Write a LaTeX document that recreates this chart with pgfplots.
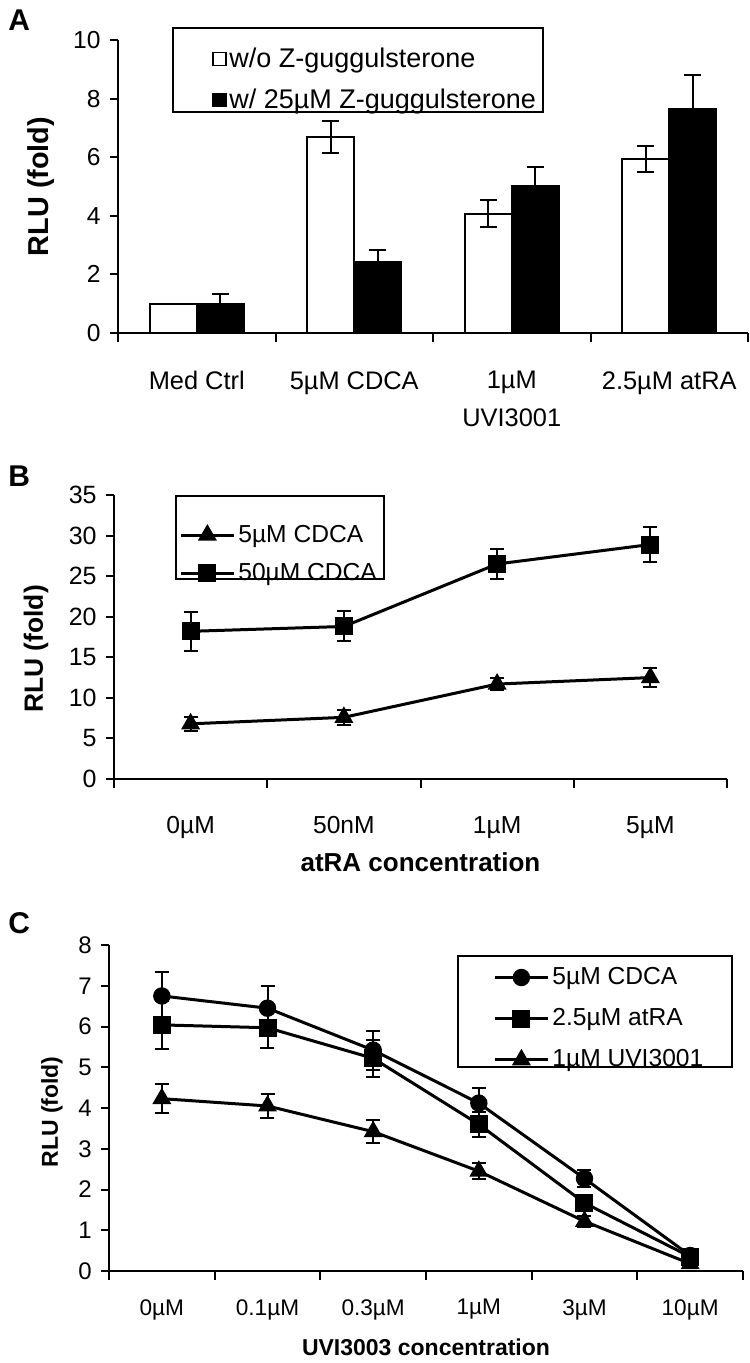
\documentclass[border=0pt]{standalone}
\usepackage{fontspec}
\setmainfont{Liberation Sans}
\usepackage{pgfplots}
\pgfplotsset{compat=1.18}

\pgfplotsset{
  panel/.style={
    scale only axis,
    axis x line=bottom, axis y line=left,
    axis line style={-, line width=1pt},
    tick align=outside,
    major tick length=4pt, minor tick length=4.5pt,
    every tick/.style={black, line width=1pt},
    major x tick style={draw=none},
    yticklabel style={anchor=east, inner sep=0pt},
    xticklabel style={anchor=north, inner sep=0pt, align=center},
    /pgf/number format/assume math mode=true,
    legend cell align=left,
    clip=false,
  },
  errs/.style={
    /pgfplots/error bars/y dir=both, /pgfplots/error bars/y explicit,
    /pgfplots/error bars/error bar style={line width=1pt, black},
    /pgfplots/error bars/error mark options={rotate=90, mark size=#1, line width=1pt, black}},
  lineplot/.style={black, line width=1.5pt, mark options={solid, fill=black}, errs=3.5pt},
  lineleg/.style={legend image code/.code={
    \draw[mark repeat=2, mark phase=2, ##1] plot coordinates {(0pt,0pt) (13.25pt,0pt) (26.5pt,0pt)};}},
  barleg/.style={legend image code/.code={
    \draw[##1, line width=0.75pt] (0pt,-3.25pt) rectangle (6.5pt,3.25pt);}},
  legbox/.style={draw=none, fill=none, anchor=north west, inner xsep=0pt, inner ysep=0pt},
}

\begin{document}
\begin{tikzpicture}
\useasboundingbox (0,0) rectangle (374.5pt,-681.5pt);

\node[anchor=north west, inner sep=0pt, font=\fontsize{15}{18}\selectfont\bfseries] at (4pt,-4.5pt) {A};
\node[anchor=north west, inner sep=0pt, font=\fontsize{15}{18}\selectfont\bfseries] at (4pt,-232.5pt) {B};
\node[anchor=north west, inner sep=0pt, font=\fontsize{15}{18}\selectfont\bfseries] at (4pt,-456pt) {C};

% ---------------- Panel A ----------------
\begin{axis}[panel,
  at={(59pt,-166.5pt)}, anchor=south west,
  width=315pt, height=146.5pt,
  xmin=-0.5, xmax=3.5, ymin=0, ymax=10,
  ytick={0,2,...,10},
  xtick={0,1,2,3},
  xticklabels={Med Ctrl, 5µM CDCA, {1µM\\UVI3001}, 2.5µM atRA},
  minor xtick={-0.5,0.5,1.5,2.5,3.5},
  yticklabel style={font=\fontsize{12.3}{15}\selectfont, xshift=-4.5pt},
  xticklabel style={font=\fontsize{12.7}{19}\selectfont, yshift=-15pt},
  ylabel={RLU (fold)},
  ylabel style={font=\fontsize{14.4}{16}\selectfont\bfseries, at={(axis description cs:-0.122,0.5)}, anchor=center, rotate=0},
  ybar=0pt, bar width=23.5pt,
  legend style={legbox, at={(rel axis cs:0.149,0.9812)},
    font=\fontsize{13.5}{16}\selectfont, row sep=7pt,
    nodes={inner xsep=1.25pt, inner ysep=1pt}},
]
\addplot[fill=white, draw=black, line width=1pt, barleg, errs=4.25pt]
  coordinates {(0,1.00) +- (0,0) (1,6.70) +- (0,0.54) (2,4.07) +- (0,0.46) (3,5.94) +- (0,0.45)};
\addplot[fill=black, draw=black, line width=1pt, barleg, errs=4.25pt]
  coordinates {(0,1.00) +- (0,0.32) (1,2.44) +- (0,0.40) (2,5.00) +- (0,0.66) (3,7.63) +- (0,1.18)};
\legend{w/o Z-guggulsterone, w/ 25µM Z-guggulsterone}
\draw[line width=0.75pt] (rel axis cs:0.0873,1.041) rectangle (rel axis cs:0.6746,0.7543);
\end{axis}

% ---------------- Panel B ----------------
\begin{axis}[panel,
  at={(57pt,-389.5pt)}, anchor=south west,
  width=306.5pt, height=142pt,
  xmin=-0.5, xmax=3.5, ymin=0, ymax=35,
  ytick={0,5,...,35},
  xtick={0,1,2,3},
  xticklabels={0µM, 50nM, 1µM, 5µM},
  minor xtick={-0.5,0.5,1.5,2.5,3.5},
  yticklabel style={font=\fontsize{12.5}{15}\selectfont, xshift=-4.5pt},
  xticklabel style={font=\fontsize{12.3}{15}\selectfont, yshift=-14.5pt},
  ylabel={RLU (fold)},
  ylabel style={font=\fontsize{13.2}{16}\selectfont\bfseries, at={(axis description cs:-0.127,0.458)}, anchor=center, rotate=0},
  xlabel={atRA concentration},
  xlabel style={font=\fontsize{13}{16}\selectfont\bfseries, at={(axis description cs:0.5,-0.294)}, anchor=center},
  legend style={legbox, at={(rel axis cs:0.106,0.903)},
    font=\fontsize{12.3}{15}\selectfont, row sep=7pt,
    nodes={inner xsep=1.5pt, inner ysep=1pt}},
]
\addplot[lineplot, lineleg, mark=triangle*, mark size=4pt]
  coordinates {(0,6.8) +- (0,0.9) (1,7.6) +- (0,0.9) (2,11.7) +- (0,0.7) (3,12.5) +- (0,1.2)};
\addplot[lineplot, lineleg, mark=square*, mark size=3.75pt]
  coordinates {(0,18.2) +- (0,2.4) (1,18.8) +- (0,1.85) (2,26.5) +- (0,1.85) (3,28.9) +- (0,2.2)};
\legend{5µM CDCA, 50µM CDCA}
\draw[line width=0.75pt] (rel axis cs:0.1011,0.9965) rectangle (rel axis cs:0.4405,0.7042);
\end{axis}

% ---------------- Panel C ----------------
\begin{axis}[panel,
  at={(54.5pt,-635.5pt)}, anchor=south west,
  width=317pt, height=163pt,
  xmin=-0.5, xmax=5.5, ymin=0, ymax=8,
  ytick={0,1,...,8},
  xtick={0,1,2,3,4,5},
  xticklabels={0µM, 0.1µM, 0.3µM, 1µM, 3µM, 10µM},
  minor xtick={-0.5,0.5,1.5,2.5,3.5,4.5,5.5},
  yticklabel style={font=\fontsize{12}{15}\selectfont, xshift=-4.5pt},
  xticklabel style={font=\fontsize{11.3}{14}\selectfont, yshift=-10pt},
  ylabel={RLU (fold)},
  ylabel style={font=\fontsize{11.5}{14}\selectfont\bfseries, at={(axis description cs:-0.09,0.488)}, anchor=center, rotate=0},
  xlabel={UVI3003 concentration},
  xlabel style={font=\fontsize{11.5}{14}\selectfont\bfseries, at={(axis description cs:0.5,-0.233)}, anchor=center},
  legend style={legbox, at={(rel axis cs:0.6057,0.9387)},
    font=\fontsize{12.3}{15}\selectfont, row sep=8.5pt,
    nodes={inner xsep=1.5pt, inner ysep=1pt}},
]
\addplot[lineplot, lineleg, mark=*, mark size=3.6pt]
  coordinates {(0,6.75) +- (0,0.60) (1,6.45) +- (0,0.55) (2,5.42) +- (0,0.48) (3,4.12) +- (0,0.37) (4,2.27) +- (0,0.20) (5,0.38) +- (0,0.10)};
\addplot[lineplot, lineleg, mark=square*, mark size=3.75pt]
  coordinates {(0,6.04) +- (0,0.58) (1,5.97) +- (0,0.50) (2,5.22) +- (0,0.45) (3,3.60) +- (0,0.30) (4,1.67) +- (0,0.20) (5,0.35) +- (0,0.10)};
\addplot[lineplot, lineleg, mark=triangle*, mark size=4pt]
  coordinates {(0,4.23) +- (0,0.36) (1,4.05) +- (0,0.30) (2,3.42) +- (0,0.28) (3,2.45) +- (0,0.20) (4,1.22) +- (0,0.13) (5,0.18) +- (0,0.10)};
\legend{5µM CDCA, 2.5µM atRA, 1µM UVI3001}
\draw[line width=0.75pt] (rel axis cs:0.5505,0.9663) rectangle (rel axis cs:0.9826,0.6258);
\end{axis}
\end{tikzpicture}
\end{document}
